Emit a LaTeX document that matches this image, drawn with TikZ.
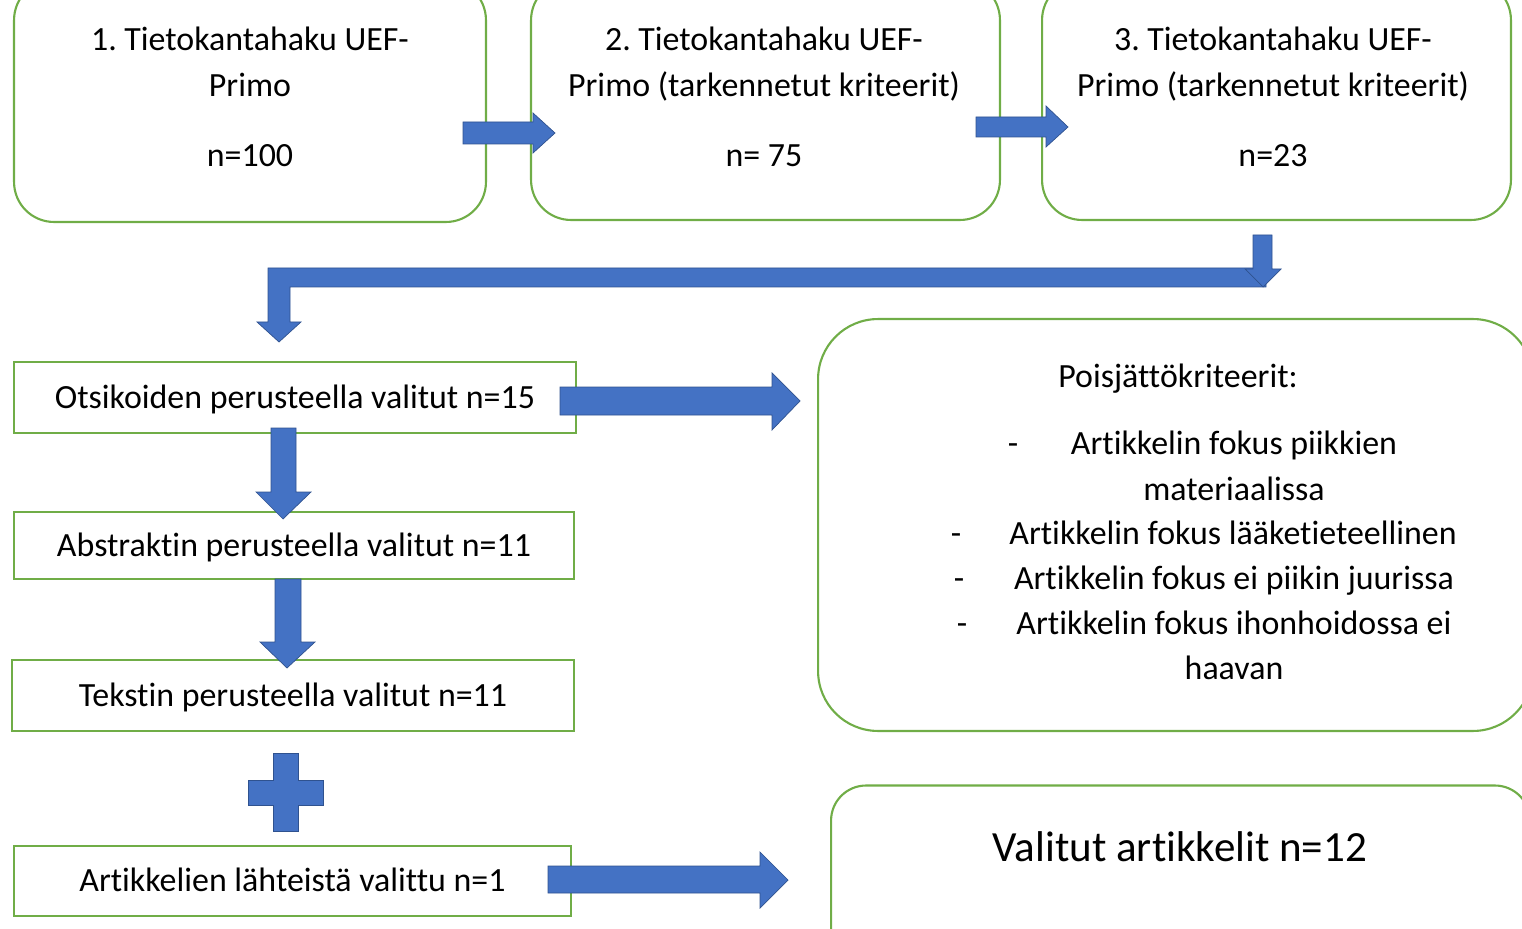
\documentclass[tikz,border=0pt]{standalone}
\usepackage{fontspec}
\setmainfont{Carlito}[Ligatures={NoCommon,NoRare}]
\usetikzlibrary{positioning}
\definecolor{boxgreen}{HTML}{70AD47}
\definecolor{arrowblue}{HTML}{4472C4}
\definecolor{arrowedge}{HTML}{2F528F}
\frenchspacing

\begin{document}
\begin{tikzpicture}[x=0.02cm, y=-0.02cm,
    roundbox/.style={draw=boxgreen, line width=1.2pt, rounded corners=0.8cm, inner sep=0pt},
    plainbox/.style={draw=boxgreen, line width=1.2pt, inner sep=0pt,
      font=\fontsize{19.3}{26}\selectfont, text height=14pt, text depth=1.6pt},
    boxtext/.style={anchor=base, font=\fontsize{19.3}{26}\selectfont, inner sep=0pt},
    bigtext/.style={anchor=base, font=\fontsize{24.5}{30}\selectfont, inner sep=0pt},
    blockarrow/.style={fill=arrowblue, draw=arrowedge, line width=0.4pt, line join=miter}
  ]
  \useasboundingbox (0,0) rectangle (1522,929);
  \clip (0,0) rectangle (1522,929);

  % --- Database searches ---
  \node[roundbox, minimum width=9.44cm, minimum height=4.84cm] (haku1) at (250,101) {};
  \node[roundbox, minimum width=9.38cm, minimum height=4.8cm] (haku2) at (765.5,100) {};
  \node[roundbox, minimum width=9.38cm, minimum height=4.8cm] (haku3) at (1276.5,100) {};

  \node[boxtext] (haku1a) at (250,51) {1. Tietokantahaku UEF-};
  \node[boxtext] (haku1b) at (250,97) {Primo};
  \node[boxtext] (haku1n) at (250,167) {n=100};
  \node[boxtext] (haku2a) at (764,51) {2. Tietokantahaku UEF-};
  \node[boxtext] (haku2b) at (764,97) {Primo (tarkennetut kriteerit)};
  \node[boxtext] (haku2n) at (764,167) {n= 75};
  \node[boxtext] (haku3a) at (1273,51) {3. Tietokantahaku UEF-};
  \node[boxtext] (haku3b) at (1273,97) {Primo (tarkennetut kriteerit)};
  \node[boxtext] (haku3n) at (1273,167) {n=23};

  % --- Selection steps ---
  \node[plainbox, minimum width=11.24cm, minimum height=1.42cm] (otsikko) at (295,397.5) {Otsikoiden perusteella valitut n=15};
  \node[plainbox, minimum width=11.2cm, minimum height=1.34cm] (abstrakti) at (294,545.5) {Abstraktin perusteella valitut n=11};
  \node[plainbox, minimum width=11.24cm, minimum height=1.42cm] (teksti) at (293,695.5) {Tekstin perusteella valitut n=11};
  \node[plainbox, minimum width=11.14cm, minimum height=1.4cm] (lahteet) at (292.5,881) {Artikkelien lähteistä valittu n=1};

  % --- Exclusion criteria ---
  \node[roundbox, rounded corners=1.2cm, minimum width=14.3cm, minimum height=8.24cm] (kriteerit) at (1175.5,525) {};
  \node[boxtext] (kriteeritotsikko) at (1178,387) {Poisjättökriteerit:};
  \node[boxtext] (viiva1) at (1013,454) {-};
  \node[boxtext] (kriteeri1a) at (1234,454) {Artikkelin fokus piikkien};
  \node[boxtext] (kriteeri1b) at (1234,500) {materiaalissa};
  \node[boxtext] (viiva2) at (956,544) {-};
  \node[boxtext] (kriteeri2) at (1233,544) {Artikkelin fokus lääketieteellinen};
  \node[boxtext] (viiva3) at (959,589) {-};
  \node[boxtext] (kriteeri3) at (1234,589) {Artikkelin fokus ei piikin juurissa};
  \node[boxtext] (viiva4) at (962,634) {-};
  \node[boxtext] (kriteeri4a) at (1234,634) {Artikkelin fokus ihonhoidossa ei};
  \node[boxtext] (kriteeri4b) at (1234,679) {haavan};

  % --- Result ---
  \node[roundbox, rounded corners=0.7cm, minimum width=13.98cm, minimum height=4.1cm] (valitut) at (1180.5,888) {};
  \node[bigtext] (valitutteksti) at (1180,861) {Valitut artikkelit n=12};

  % --- Arrows between searches ---
  \draw[blockarrow] (463,122) -- (533,122) -- (533,113) -- (555,133) -- (533,153) -- (533,144) -- (463,144) -- cycle;
  \draw[blockarrow] (976,117) -- (1046,117) -- (1046,106) -- (1068,127) -- (1046,147) -- (1046,137) -- (976,137) -- cycle;

  % --- Bent arrow back to the left ---
  \draw[blockarrow] (1266,268) -- (268,268) -- (268,322) -- (257,322) -- (279,342) -- (301,322) -- (290,322) -- (290,287) -- (1266,287) -- cycle;
  \draw[blockarrow] (1253,235) -- (1272,235) -- (1272,269) -- (1281,269) -- (1263,287) -- (1245,269) -- (1253,269) -- cycle;

  % --- Down arrows ---
  \draw[blockarrow] (271,428) -- (296,428) -- (296,492) -- (311,492) -- (283,519) -- (256,492) -- (271,492) -- cycle;
  \draw[blockarrow] (275,579) -- (301,579) -- (301,642) -- (315,642) -- (287,668) -- (260,642) -- (275,642) -- cycle;

  % --- Plus sign ---
  \draw[blockarrow] (273,753) -- (298,753) -- (298,780) -- (323,780) -- (323,805) -- (298,805) -- (298,831)
    -- (273,831) -- (273,805) -- (248,805) -- (248,780) -- (273,780) -- cycle;

  % --- Arrows to the right ---
  \draw[blockarrow] (560,387) -- (772,387) -- (772,373) -- (800,401) -- (772,430) -- (772,415) -- (560,415) -- cycle;
  \draw[blockarrow] (548,866) -- (760,866) -- (760,852) -- (788,880) -- (760,908) -- (760,893) -- (548,893) -- cycle;
\end{tikzpicture}
\end{document}
